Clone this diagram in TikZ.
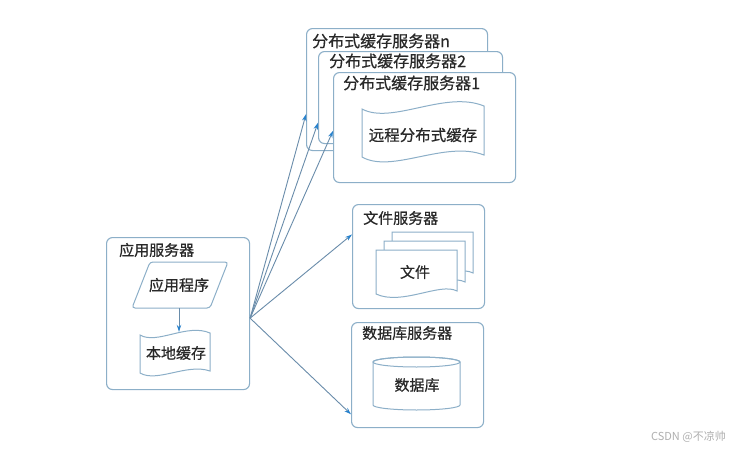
\documentclass[tikz,border=0pt]{standalone}
\usepackage{fontspec}
\setmainfont{Noto Sans CJK SC}
\newfontfamily\boldcjk[FakeBold=0.6]{Noto Sans CJK SC}
\usetikzlibrary{arrows.meta,calc}
\definecolor{boxline}{RGB}{140,175,200}
\definecolor{arrline}{RGB}{105,140,170}
\definecolor{arrhead}{RGB}{40,130,205}
\definecolor{txt}{RGB}{40,40,40}
\definecolor{wm}{RGB}{175,175,175}
\tikzset{
  srvbox/.style={draw=boxline, line width=1.1pt, rounded corners=6pt, fill=white, anchor=north west, inner sep=0pt},
  shp/.style={draw=boxline, line width=1pt, fill=white},
  lbl/.style={text=txt, font=\boldcjk\fontsize{15}{18}\selectfont, inner sep=0pt},
  biglbl/.style={text=txt, font=\boldcjk\fontsize{16}{19}\selectfont, inner sep=0pt},
  conn/.style={draw=arrline, line width=0.9pt, -{Stealth[length=7pt,width=4.5pt,color=arrhead]}}
}
\begin{document}
\begin{tikzpicture}[x=1pt,y=-1pt]
\useasboundingbox (0,0) rectangle (740,450);
\fill[white] (0,0) rectangle (740,450);

% distributed cache servers (back to front)
\node[srvbox, minimum width=181pt, minimum height=122pt] (srvn) at (306,28) {};
\node[biglbl, anchor=west] (tn) at (312,41) {分布式缓存服务器n};
\node[srvbox, minimum width=184pt, minimum height=92pt] (srv2) at (318,51) {};
\node[biglbl, anchor=west] (t2) at (329,61) {分布式缓存服务器2};
\node[srvbox, minimum width=182pt, minimum height=110pt] (srv1) at (333,72) {};
\node[biglbl, anchor=west] (t1) at (343,83) {分布式缓存服务器1};
% remote cache tape
\filldraw[shp] (362,109) .. controls (392,125) and (445,90) .. (484,106)
  -- (484,155) .. controls (445,140) and (392,174) .. (362,157) -- cycle;
\node[lbl, font=\boldcjk\fontsize{15.5}{18}\selectfont] (rc) at (423,135) {远程分布式缓存};

% application server
\node[srvbox, minimum width=143pt, minimum height=152pt] (app) at (106,237) {};
\node[lbl, anchor=west] (tapp) at (119,250) {应用服务器};
\filldraw[shp, rounded corners=3pt] (150,262) -- (228,262) -- (210,308) -- (132,308) -- cycle;
\node[lbl, minimum height=46pt] (prog) at (179,285) {应用程序};
\filldraw[shp] (140,335) .. controls (157,345) and (187,323) .. (210,333)
  -- (210,371) .. controls (187,363) and (157,383) .. (140,373) -- cycle;
\node[lbl, minimum height=42pt] (loc) at (176,353) {本地缓存};
\draw[conn] (prog.south) -- (prog.south |- loc.north);

% file server
\node[srvbox, minimum width=132pt, minimum height=104pt] (file) at (352,204) {};
\node[lbl, anchor=west] (tfile) at (363,218) {文件服务器};
\foreach \dx/\dy in {16/-18, 8/-9, 0/0}{
  \filldraw[shp, shift={(\dx,\dy)}] (376,250) -- (457,250) -- (457,291)
    .. controls (440,282) and (402,306) .. (376,294) -- cycle;
}
\node[lbl] (doc) at (415,272) {文件};

% database server
\node[srvbox, minimum width=132pt, minimum height=105pt] (db) at (351,322) {};
\node[lbl, anchor=west] (tdb) at (362,333) {数据库服务器};
\filldraw[shp] (373,362) -- (373,405) arc[start angle=180, end angle=0, x radius=43.5, y radius=5]
  -- (460,362) arc[start angle=0, end angle=-180, x radius=43.5, y radius=5] -- cycle;
\draw[shp, fill=none] (416.5,362) ellipse[x radius=43.5, y radius=5];
\node[lbl] (dbt) at (417,385) {数据库};

% connectors
\coordinate (src) at ($(app.north east)!0.53!(app.south east)$);
\draw[conn] (src) -- ($(srvn.north west)!0.70!(srvn.south west)$);
\draw[conn] (src) -- ($(srv2.north west)!0.77!(srv2.south west)$);
\draw[conn] (src) -- ($(srv1.north west)!0.53!(srv1.south west)$);
\draw[conn] (src) -- ($(file.north west)!0.29!(file.south west)$);
\draw[conn] (src) -- ($(db.north west)!0.87!(db.south west)$);

% watermark
\node[text=wm, font=\fontsize{11}{13}\selectfont, inner sep=0pt, anchor=east] (wmk) at (726,437) {CSDN @不凉帅};
\end{tikzpicture}
\end{document}
